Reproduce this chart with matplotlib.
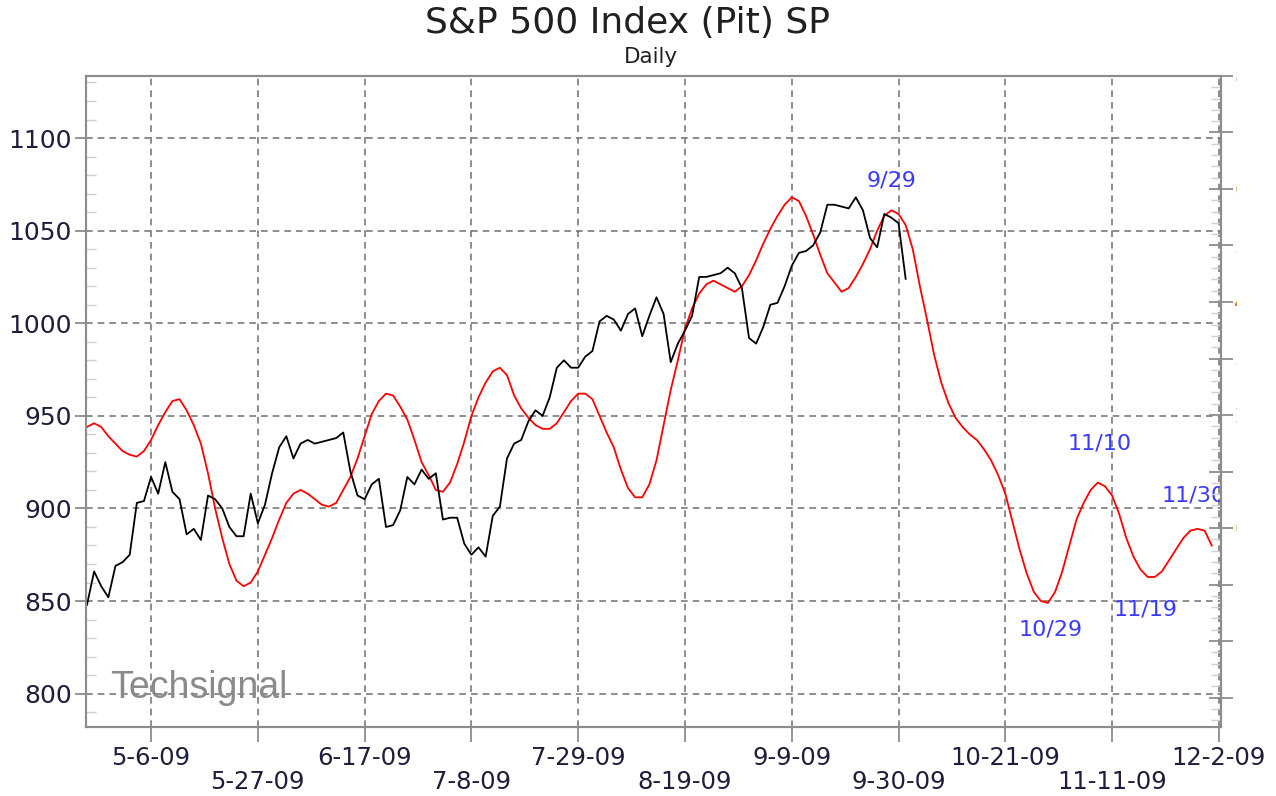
import numpy as np
import pandas as pd
import matplotlib
matplotlib.use('Agg')
import matplotlib.pyplot as plt
from matplotlib.ticker import MultipleLocator
from matplotlib.patches import Rectangle

# weekday axis, 4-23-09 .. 12-2-09
dates = pd.bdate_range('2009-04-23', '2009-12-02')

# S&P 500 pit futures, daily
sp_close = [848, 866, 858, 852, 869, 871, 875, 903, 904, 917,
            908, 925, 909, 905, 886, 889, 883, 907, 905, 900,
            890, 885, 885, 908, 892, 902, 919, 933, 939, 927,
            935, 937, 935, 936, 937, 938, 941, 920, 907, 905,
            913, 916, 890, 891, 899, 917, 913, 921, 916, 919,
            894, 895, 895, 881, 875, 879, 874, 896, 901, 927,
            935, 937, 947, 953, 950, 960, 976, 980, 976, 976,
            982, 985, 1001, 1004, 1002, 996, 1005, 1008, 993, 1004,
            1014, 1005, 979, 989, 996, 1004, 1025, 1025, 1026, 1027,
            1030, 1027, 1019, 992, 989, 998, 1010, 1011, 1020, 1031,
            1038, 1039, 1042, 1049, 1064, 1064, 1063, 1062, 1068, 1061,
            1046, 1041, 1059, 1057, 1054, 1024]

# cycle forecast (red)
cycle = [944, 946, 944, 939, 935, 931, 929, 928, 931, 937,
         945, 952, 958, 959, 953, 945, 935, 919, 900, 884,
         870, 861, 858, 860, 866, 875, 884, 894, 903, 908,
         910, 908, 905, 902, 901, 903, 910, 917, 927, 939,
         951, 958, 962, 961, 955, 948, 937, 925, 918, 910,
         909, 914, 924, 936, 950, 960, 968, 974, 976, 972,
         961, 954, 949, 945, 943, 943, 946, 952, 958, 962,
         962, 959, 950, 941, 933, 921, 911, 906, 906, 913,
         926, 945, 964, 980, 997, 1008, 1016, 1021, 1023, 1021,
         1019, 1017, 1020, 1026, 1034, 1043, 1051, 1058, 1064, 1068,
         1066, 1058, 1048, 1037, 1027, 1022, 1017, 1019, 1025, 1032,
         1040, 1050, 1058, 1061, 1059, 1053, 1040, 1020, 1002, 983,
         968, 957, 949, 944, 940, 937, 932, 926, 918, 908,
         893, 878, 865, 855, 850, 849, 855, 866, 880, 894,
         903, 910, 914, 912, 907, 897, 884, 874, 867, 863,
         863, 866, 872, 878, 884, 888, 889, 888, 880]

tick_dates = ['2009-05-06', '2009-05-27', '2009-06-17', '2009-07-08', '2009-07-29',
              '2009-08-19', '2009-09-09', '2009-09-30', '2009-10-21', '2009-11-11',
              '2009-12-02']
tick_labels = ['5-6-09', '5-27-09', '6-17-09', '7-8-09', '7-29-09', '8-19-09',
               '9-9-09', '9-30-09', '10-21-09', '11-11-09', '12-2-09']

ann_dates = ['2009-09-29', '2009-10-29', '2009-11-10', '2009-11-19', '2009-11-30']
ann_labels = ['9/29', '10/29', '11/10', '11/19', '11/30']
ann_y = [1077, 834.5, 935, 845.5, 907]
ann_shift = [0, 0.3, -0.7, -1.3, -1.6]

grey = '#8c8c8c'
label_col = '#1e1e3c'

fig = plt.figure(figsize=(12.76, 7.96), dpi=100)
ax = fig.add_axes([86 / 1276, 1 - 727 / 796, (1221 - 86) / 1276, (727 - 76) / 796])

ax.plot(np.arange(len(cycle)), cycle, color='#ff0000', lw=1.3, zorder=3)
ax.plot(np.arange(len(sp_close)), sp_close, color='black', lw=1.3, zorder=4)

ax.set_xlim(-0.14, 159.3)
ax.set_ylim(782, 1133.5)

tick_pos = dates.get_indexer(pd.to_datetime(tick_dates))
ax.set_xticks(tick_pos)
ax.set_xticklabels([lab if k % 2 == 0 else '\n' + lab for k, lab in enumerate(tick_labels)],
                   fontsize=17.5, color=label_col, linespacing=1.0)
ax.set_yticks([800, 850, 900, 950, 1000, 1050, 1100])
ax.yaxis.set_minor_locator(MultipleLocator(10))
for lab in ax.get_yticklabels():
    lab.set_fontsize(18)
    lab.set_color(label_col)

ax.tick_params(axis='x', which='major', direction='out', length=11, width=1.3, color=grey, pad=3)
ax.tick_params(axis='y', which='major', direction='out', length=8, width=1.3, color=grey, pad=2)
ax.tick_params(axis='y', which='minor', direction='in', length=7, width=1.0, color='#d0d0d0')

ax.grid(True, which='major', color='#7a7a7a', linestyle=(0, (4, 3)), linewidth=1.2)
ax.set_axisbelow(True)
for sp in ax.spines.values():
    sp.set_color(grey)
    sp.set_linewidth(1.5)

# right scale (cut off at the edge of the picture)
ax2 = ax.twinx()
ax2.set_ylim(8 - (727 - 76) / 56.5, 8)
ax2.set_yticks(range(-3, 9))
ax2.yaxis.set_minor_locator(MultipleLocator(0.2))
ax2.tick_params(axis='y', which='major', direction='inout', length=17, width=1.3, color=grey,
                labelsize=16, labelcolor='#cc7a1e', pad=1)
ax2.tick_params(axis='y', which='minor', direction='in', length=7, width=1.0, color='#d0d0d0')
for sp in ax2.spines.values():
    sp.set_color(grey)
    sp.set_linewidth(1.5)

ann_pos = dates.get_indexer(pd.to_datetime(ann_dates))
for p, s, lab, yv in zip(ann_pos, ann_shift, ann_labels, ann_y):
    ax.text(p + s, yv, lab, color='#3a3aff', fontsize=16, ha='center', va='center',
            clip_on=True, zorder=5)

ax.text(0.021, 0.06, 'Techsignal', transform=ax.transAxes, fontsize=27,
        family='Liberation Sans', color='#8a8a8a', va='center', ha='left')

fig.text(0.4918, 0.971, 'S&P 500 Index (Pit) SP', fontsize=26, ha='center', va='center',
         color='#202020')
fig.text(0.510, 0.928, 'Daily', fontsize=15.5, ha='center', va='center', color='#202020')

# the right-hand labels are cut off at the picture edge
fig.add_artist(Rectangle((1237 / 1276, 1 - 740 / 796), 1, 1, transform=fig.transFigure,
                         facecolor='white', edgecolor='none', zorder=10))

fig.savefig('out.png', dpi=100, facecolor='white')
